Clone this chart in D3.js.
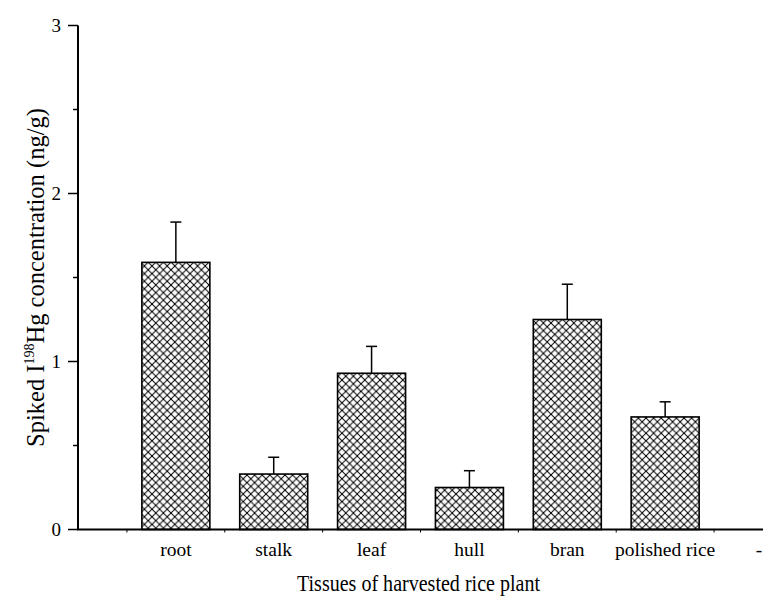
<!DOCTYPE html>
<html>
<head>
<meta charset="utf-8">
<script src="https://cdn.jsdelivr.net/npm/d3@7"></script>
<style>
  html, body { margin: 0; padding: 0; background: #fff; }
  svg { display: block; font-family: "Liberation Serif", "Times New Roman", serif; }
</style>
</head>
<body>
<svg id="chart" width="763" height="598"></svg>
<script>
// Tissue categories (blank slot at the origin and a trailing "-" slot)
const slots = ["", "root", "stalk", "leaf", "hull", "bran", "polished rice", "-"];
const tissues = ["root", "stalk", "leaf", "hull", "bran", "polished rice"];
// Mean concentration (ng/g) and upper error (SD)
const means = [1.59, 0.33, 0.93, 0.25, 1.25, 0.67];
const errors = [0.24, 0.10, 0.16, 0.10, 0.21, 0.09];
const yMajorTicks = [0, 1, 2, 3];
const yMinorTicks = [0.5, 1.5, 2.5];

const svg = d3.select("#chart");
const x0 = 78, x1 = 763, yTop = 25.5, yBottom = 529.5;

const x = d3.scalePoint().domain(slots).range([x0, x1]);
const step = x.step();
const barW = 68;
const y = d3.scaleLinear().domain([0, 3]).range([yBottom, yTop]);

// cross-hatch fill
const defs = svg.append("defs");
const pat = defs.append("pattern")
  .attr("id", "hatch")
  .attr("patternUnits", "userSpaceOnUse")
  .attr("width", 7.6).attr("height", 7.6);
pat.append("rect").attr("width", 7.6).attr("height", 7.6).attr("fill", "#fff");
pat.append("path").attr("d", "M-1,-1 L8.6,8.6 M-1,6.6 L1,8.6 M6.6,-1 L8.6,1")
  .attr("stroke", "#000").attr("stroke-width", 1);
pat.append("path").attr("d", "M-1,8.6 L8.6,-1 M-1,1 L1,-1 M6.6,8.6 L8.6,6.6")
  .attr("stroke", "#000").attr("stroke-width", 1);

const data = tissues.map((t, i) => ({ t, v: means[i], e: errors[i] }));

// error bars (upper only)
const eb = svg.append("g").attr("stroke", "#000").attr("stroke-width", 1.5);
eb.selectAll("line.v").data(data).join("line")
  .attr("x1", d => x(d.t)).attr("x2", d => x(d.t))
  .attr("y1", d => y(d.v)).attr("y2", d => y(d.v + d.e));
eb.selectAll("line.c").data(data).join("line")
  .attr("x1", d => x(d.t) - 5.5).attr("x2", d => x(d.t) + 5.5)
  .attr("y1", d => y(d.v + d.e)).attr("y2", d => y(d.v + d.e));

// bars
svg.append("g").selectAll("rect").data(data).join("rect")
  .attr("x", d => x(d.t) - barW / 2)
  .attr("y", d => y(d.v))
  .attr("width", barW)
  .attr("height", d => y(0) - y(d.v))
  .attr("fill", "url(#hatch)")
  .attr("stroke", "#000").attr("stroke-width", 1.6);

// y axis
const yAxis = svg.append("g").attr("transform", `translate(${x0},0)`);
yAxis.append("line").attr("x1", 0).attr("x2", 0)
  .attr("y1", y(3)).attr("y2", y(0)).attr("stroke", "#000").attr("stroke-width", 2);
yAxis.selectAll("line.maj").data(yMajorTicks).join("line")
  .attr("x1", -10).attr("x2", 0).attr("y1", d => y(d)).attr("y2", d => y(d))
  .attr("stroke", "#000").attr("stroke-width", 1.5);
yAxis.selectAll("line.min").data(yMinorTicks).join("line")
  .attr("x1", -5).attr("x2", 0).attr("y1", d => y(d)).attr("y2", d => y(d))
  .attr("stroke", "#000").attr("stroke-width", 1.5);
yAxis.selectAll("text").data(yMajorTicks).join("text")
  .attr("x", -17).attr("y", d => y(d)).attr("dy", "0.35em")
  .attr("text-anchor", "end").attr("font-size", 19).text(d => d);

// x axis
const xAxis = svg.append("g");
xAxis.append("line").attr("x1", x0 - 1).attr("x2", x1)
  .attr("y1", yBottom).attr("y2", yBottom).attr("stroke", "#000").attr("stroke-width", 2);
const mids = slots.slice(0, -1).map(s => x(s) + step / 2);
xAxis.selectAll("line.t").data(mids).join("line")
  .attr("x1", d => d).attr("x2", d => d)
  .attr("y1", yBottom).attr("y2", yBottom + 3)
  .attr("stroke", "#000").attr("stroke-width", 1);
xAxis.selectAll("text").data(slots.slice(1)).join("text")
  .attr("x", d => x(d) - (d === "-" ? 4 : 0)).attr("y", 556)
  .attr("text-anchor", "middle").attr("font-size", 19.5).text(d => d);

// axis titles
svg.append("text").attr("x", (x0 + x1) / 2 - 2).attr("y", 591)
  .attr("text-anchor", "middle").attr("font-size", 22.5)
  .attr("textLength", 243).attr("lengthAdjust", "spacingAndGlyphs")
  .text("Tissues of harvested rice plant");

const yt = svg.append("text")
  .attr("transform", `translate(44,${(yTop + yBottom) / 2}) rotate(-90)`)
  .attr("text-anchor", "middle").attr("font-size", 24.5);
yt.append("tspan").text("Spiked I");
yt.append("tspan").attr("font-size", 14).attr("dy", -10).text("198");
yt.append("tspan").attr("dy", 10).text("Hg concentration (ng/g)");
</script>
</body>
</html>
